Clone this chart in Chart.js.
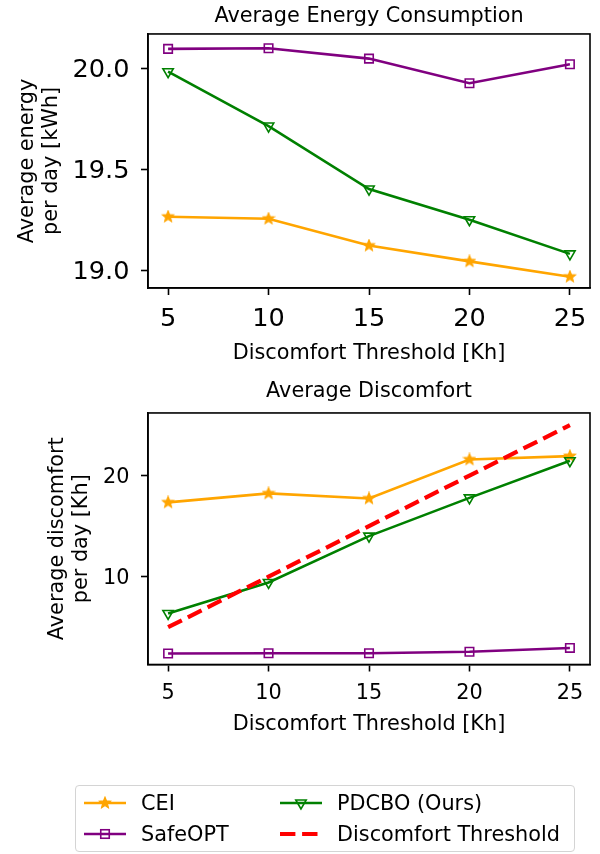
<!DOCTYPE html>
<html>
<head>
<meta charset="utf-8">
<script src="https://cdn.jsdelivr.net/npm/chart.js@4.4.1/dist/chart.umd.min.js"></script>
<style>
  body { margin: 0; width: 600px; height: 854px; background: #fff; position: relative; overflow: hidden; font-family: "DejaVu Sans", sans-serif; }
  #energy { position: absolute; left: 0; top: 0; }
  #discomfort { position: absolute; left: 0; top: 372px; }
  #legend {
    position: absolute; left: 75px; top: 785px; width: 500px; height: 67px;
    border: 1px solid #d4d4d4; border-radius: 4px; box-sizing: border-box;
    padding: 1px 0 0 8px;
    display: grid; grid-template-columns: 196px 1fr; grid-template-rows: 31px 31px; grid-auto-flow: column;
    font-size: 20.8px; color: #000;
  }
  .item { display: flex; align-items: center; }
  .item canvas { margin-right: 15px; }
</style>
</head>
<body>
<canvas id="energy" width="600" height="372"></canvas>
<canvas id="discomfort" width="600" height="380"></canvas>
<div id="legend"></div>
<script>
const FONT = "'DejaVu Sans', sans-serif";

// x axis: discomfort threshold [Kh]
const thresholds = [5, 10, 15, 20, 25];
const xTicks = [5, 10, 15, 20, 25];

// average energy per day [kWh]
const energyCEI = [19.266, 19.256, 19.123, 19.045, 18.969];
const energySafeOPT = [20.097, 20.100, 20.049, 19.927, 20.021];
const energyPDCBO = [19.984, 19.715, 19.403, 19.251, 19.082];
const energyTicks = [19.0, 19.5, 20.0];

// average discomfort per day [Kh]
const discCEI = [17.35, 18.24, 17.74, 21.60, 21.93];
const discSafeOPT = [2.40, 2.42, 2.42, 2.57, 2.95];
const discPDCBO = [6.36, 9.43, 14.01, 17.80, 21.47];
const discThreshold = [5, 10, 15, 20, 25];
const discTicks = [10, 20];

const ORANGE = "#ffa500", PURPLE = "#800080", GREEN = "#008000", RED = "#ff0000";

// filled five-point star for CEI
function starImage() {
  const c = document.createElement("canvas");
  c.width = 14; c.height = 14;
  const g = c.getContext("2d");
  g.beginPath();
  for (let i = 0; i < 10; i++) {
    const r = i % 2 === 0 ? 5.8 : 2.6;
    const a = -Math.PI / 2 + i * Math.PI / 5;
    g.lineTo(7 + r * Math.cos(a), 7 + r * Math.sin(a));
  }
  g.closePath();
  g.fillStyle = ORANGE; g.strokeStyle = ORANGE; g.lineWidth = 1.2;
  g.fill(); g.stroke();
  return c;
}
const STAR = starImage();

const pts = (ys) => thresholds.map((x, i) => ({ x: x, y: ys[i] }));

function series(label, ys, color, style, order) {
  const ds = {
    label: label, data: pts(ys), borderColor: color, backgroundColor: "transparent",
    borderWidth: 2.6, tension: 0, order: order,
    pointStyle: style, pointRadius: 6, pointBorderWidth: 1.6,
    pointBorderColor: color, pointBackgroundColor: "transparent"
  };
  if (style === "triangle") ds.pointRotation = 180;
  return ds;
}

const framePlugin = {
  id: "frame",
  afterDraw(chart) {
    const { ctx, chartArea: a } = chart;
    ctx.save();
    ctx.strokeStyle = "#000"; ctx.lineWidth = 1.6;
    ctx.strokeRect(a.left, a.top, a.right - a.left, a.bottom - a.top);
    ctx.restore();
  }
};

function makeOptions(o) {
  return {
    responsive: false, animation: false, events: [],
    layout: { padding: { left: 0, right: 10, top: 0, bottom: 0 }, autoPadding: false },
    plugins: {
      legend: { display: false }, tooltip: { enabled: false },
      title: { display: true, fullSize: false, text: o.title, color: "#000", font: { family: FONT, size: 20.8, weight: "normal" }, padding: o.titlePad }
    },
    scales: {
      x: {
        type: "linear", min: 4, max: 26,
        afterBuildTicks: (s) => { s.ticks = xTicks.map((v) => ({ value: v })); },
        afterFit: (s) => { s.height = o.xHeight; },
        grid: { drawOnChartArea: false, drawTicks: true, tickLength: 7, tickWidth: 1.6, tickColor: "#000" },
        border: { display: true, color: "#000", width: 1.6 },
        ticks: { color: "#000", font: { family: FONT, size: o.xTickSize }, padding: o.xTickPad, maxRotation: 0, autoSkip: false, callback: (v) => String(v) },
        title: { display: true, text: "Discomfort Threshold [Kh]", color: "#000", font: { family: FONT, size: 20.8 }, padding: { top: 0, bottom: o.xTitlePad } }
      },
      y: {
        min: o.yMin, max: o.yMax,
        afterBuildTicks: (s) => { s.ticks = o.yTicks.map((v) => ({ value: v })); },
        afterFit: (s) => { s.width = 148; },
        grid: { drawOnChartArea: false, drawTicks: true, tickLength: 7, tickWidth: 1.6, tickColor: "#000" },
        border: { display: true, color: "#000", width: 1.6 },
        ticks: { color: "#000", font: { family: FONT, size: o.yTickSize }, padding: 11.5, labelOffset: 1.5, autoSkip: false, callback: o.yFmt },
        title: { display: true, text: o.yTitle, color: "#000", font: { family: FONT, size: 20.8, lineHeight: 1.15 }, padding: { top: o.yTitlePad, bottom: 0 } }
      }
    }
  };
}

new Chart(document.getElementById("energy"), {
  type: "line",
  data: {
    datasets: [
      series("CEI", energyCEI, ORANGE, STAR, 3),
      series("SafeOPT", energySafeOPT, PURPLE, "rect", 2),
      series("PDCBO (Ours)", energyPDCBO, GREEN, "triangle", 1)
    ]
  },
  options: makeOptions({
    title: "Average Energy Consumption", titlePad: { top: 4.2, bottom: 4.8 },
    xHeight: 84, xTickSize: 25.6, xTickPad: 8.5, xTitlePad: 5.9,
    yMin: 18.913, yMax: 20.171, yTicks: energyTicks, yTickSize: 25.6, yFmt: (v) => v.toFixed(1),
    yTitle: ["Average energy", "per day [kWh]"], yTitlePad: 15.3
  }),
  plugins: [framePlugin]
});

const discChart = new Chart(document.getElementById("discomfort"), {
  type: "line",
  data: {
    datasets: [
      series("CEI", discCEI, ORANGE, STAR, 3),
      series("SafeOPT", discSafeOPT, PURPLE, "rect", 2),
      series("PDCBO (Ours)", discPDCBO, GREEN, "triangle", 1),
      {
        label: "Discomfort Threshold", data: pts(discThreshold), borderColor: RED,
        borderWidth: 4.2, borderDash: [15.4, 6.7], pointRadius: 0, tension: 0, order: 0
      }
    ]
  },
  options: makeOptions({
    title: "Average Discomfort", titlePad: { top: 7.4, bottom: 8.6 },
    xHeight: 87.5, xTickSize: 20.8, xTickPad: 9.9, xTitlePad: 14.6,
    yMin: 1.31, yMax: 26.2, yTicks: discTicks, yTickSize: 20.8, yFmt: (v) => String(v),
    yTitle: ["Average discomfort", "per day [Kh]"], yTitlePad: 45.8
  }),
  plugins: [framePlugin]
});

// legend built from the discomfort chart's datasets
const legend = document.getElementById("legend");
discChart.data.datasets.forEach((ds) => {
  const item = document.createElement("div");
  item.className = "item";
  const c = document.createElement("canvas");
  c.width = 42; c.height = 20;
  const g = c.getContext("2d");
  g.strokeStyle = ds.borderColor; g.lineWidth = ds.borderWidth;
  if (ds.borderDash) g.setLineDash(ds.borderDash);
  g.beginPath(); g.moveTo(0, 10); g.lineTo(42, 10); g.stroke();
  g.setLineDash([]);
  g.lineWidth = 1.6;
  if (ds.pointStyle === STAR) {
    g.drawImage(STAR, 21 - 7, 10 - 7);
  } else if (ds.pointStyle === "rect") {
    g.strokeRect(21 - 4.25, 10 - 4.25, 8.5, 8.5);
  } else if (ds.pointStyle === "triangle") {
    g.beginPath();
    g.moveTo(21, 10 + 6); g.lineTo(21 - 5.2, 10 - 3); g.lineTo(21 + 5.2, 10 - 3);
    g.closePath(); g.stroke();
  }
  const t = document.createElement("span");
  t.textContent = ds.label;
  item.appendChild(c); item.appendChild(t);
  legend.appendChild(item);
});
</script>
</body>
</html>
